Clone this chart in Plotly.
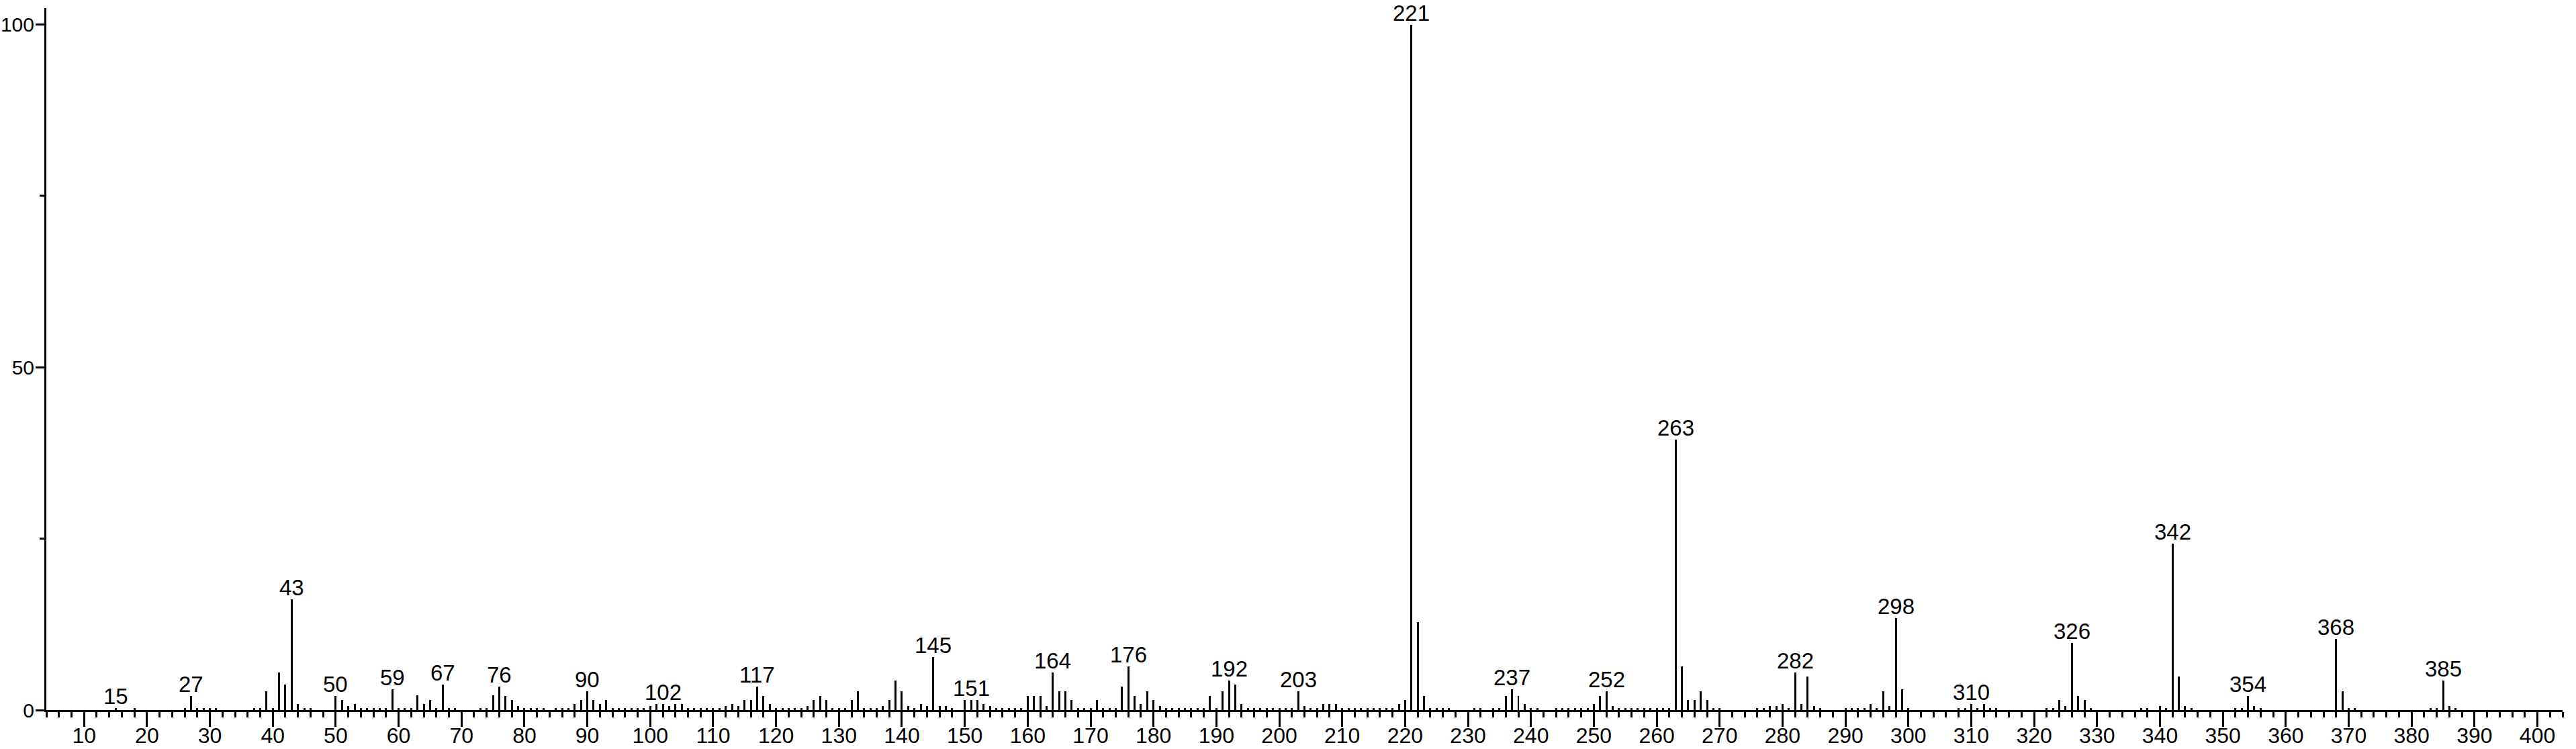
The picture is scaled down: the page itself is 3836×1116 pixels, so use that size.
import plotly.graph_objects as go

# mass spectrum peaks (m/z, relative intensity %)
mz = [15, 18, 26, 27, 28, 29, 30, 31, 37, 38, 39, 40, 41, 42, 43, 44, 45, 46,
      50, 51, 52, 53, 54, 55, 56, 57, 58, 59, 60, 61, 62, 63, 64, 65, 66, 67, 68, 69,
      73, 74, 75, 76, 77, 78, 79, 80, 81, 82, 83, 85, 86, 87, 88, 89, 90, 91, 92, 93,
      94, 95, 96, 97, 98, 99, 100, 101, 102, 103, 104, 105, 106, 107, 108, 109, 110,
      111, 112, 113, 114, 115, 116, 117, 118, 119, 120, 121, 122, 123, 124, 125, 126,
      127, 128, 129, 130, 131, 132, 133, 134, 135, 136, 137, 138, 139, 140, 141, 142,
      143, 144, 145, 146, 147, 148, 150, 151, 152, 153, 154, 155, 156, 157, 158, 159,
      160, 161, 162, 163, 164, 165, 166, 167, 168, 169, 170, 171, 172, 173, 174, 175,
      176, 177, 178, 179, 180, 181, 182, 183, 184, 185, 186, 187, 188, 189, 190, 191,
      192, 193, 194, 195, 196, 197, 198, 199, 200, 201, 202, 203, 204, 205, 206, 207,
      208, 209, 210, 211, 212, 213, 214, 215, 216, 217, 218, 219, 220, 221, 222, 223,
      224, 225, 226, 227, 231, 232, 234, 235, 236, 237, 238, 239, 240, 241, 244, 245,
      246, 247, 248, 249, 250, 251, 252, 253, 254, 255, 256, 257, 258, 259, 260, 261,
      262, 263, 264, 265, 266, 267, 268, 269, 270, 276, 277, 278, 279, 280, 281, 282,
      283, 284, 285, 286, 290, 291, 292, 293, 294, 295, 296, 297, 298, 299, 300, 308,
      309, 310, 311, 312, 313, 314, 322, 323, 324, 325, 326, 327, 328, 329, 337, 338,
      340, 341, 342, 343, 344, 345, 352, 353, 354, 355, 356, 368, 369, 370, 371, 383,
      384, 385, 386, 387]
intensity = [0.3, 0.3, 0.3, 2.1, 0.3, 0.3, 0.3, 0.3, 0.3, 0.3, 2.7, 0.3, 5.5, 3.7, 16.2, 0.9, 0.3, 0.3,
             2.1, 1.5, 0.6, 0.9, 0.3, 0.3, 0.3, 0.3, 0.3, 3.0, 0.3, 0.3, 0.3, 2.2, 0.9, 1.5, 0.3, 3.7, 0.3, 0.3,
             0.3, 0.3, 2.2, 3.4, 2.1, 1.5, 0.6, 0.3, 0.3, 0.3, 0.3, 0.3, 0.3, 0.3, 0.9, 1.5, 2.7, 1.5, 0.9, 1.5,
             0.3, 0.3, 0.3, 0.3, 0.3, 0.3, 0.6, 0.9, 0.9, 0.6, 0.9, 0.9, 0.3, 0.3, 0.3, 0.3, 0.3,
             0.3, 0.6, 0.9, 0.6, 1.5, 1.5, 3.4, 2.1, 0.9, 0.3, 0.3, 0.3, 0.3, 0.3, 0.6, 1.5,
             2.1, 1.5, 0.3, 0.3, 0.3, 1.5, 2.7, 0.3, 0.3, 0.3, 0.6, 1.5, 4.3, 2.7, 0.6, 0.3,
             0.9, 0.6, 7.7, 0.6, 0.6, 0.3, 1.5, 1.5, 1.5, 0.9, 0.6, 0.3, 0.3, 0.3, 0.3, 0.3,
             2.1, 2.1, 2.1, 0.6, 5.5, 2.7, 2.7, 1.5, 0.3, 0.3, 0.3, 1.5, 0.3, 0.3, 0.3, 3.4,
             6.4, 2.1, 0.9, 2.7, 1.5, 0.6, 0.3, 0.3, 0.3, 0.3, 0.3, 0.3, 0.3, 2.1, 0.3, 2.7,
             4.3, 3.7, 0.9, 0.3, 0.3, 0.3, 0.3, 0.3, 0.3, 0.3, 0.3, 2.7, 0.6, 0.3, 0.3, 0.9,
             0.9, 0.9, 0.3, 0.3, 0.3, 0.3, 0.3, 0.3, 0.3, 0.3, 0.3, 0.9, 1.5, 100.0, 12.8, 2.1,
             0.3, 0.3, 0.3, 0.3, 0.3, 0.3, 0.3, 0.3, 2.1, 3.0, 2.1, 0.9, 0.3, 0.3, 0.3, 0.3,
             0.3, 0.3, 0.3, 0.3, 0.9, 2.1, 2.7, 0.6, 0.3, 0.3, 0.3, 0.3, 0.3, 0.3, 0.3, 0.3,
             0.3, 39.5, 6.4, 1.5, 1.5, 2.7, 1.5, 0.3, 0.3, 0.3, 0.3, 0.6, 0.6, 0.9, 0.3, 5.5,
             0.9, 4.9, 0.6, 0.3, 0.3, 0.3, 0.3, 0.3, 0.9, 0.3, 2.7, 0.6, 13.4, 3.0, 0.3, 0.3,
             0.3, 0.9, 0.3, 0.9, 0.3, 0.3, 0.3, 0.3, 1.5, 0.6, 9.8, 2.1, 1.5, 0.3, 0.3, 0.3,
             0.6, 0.3, 24.3, 4.9, 0.6, 0.3, 0.3, 0.3, 2.1, 0.6, 0.3, 10.4, 2.7, 0.3, 0.3, 0.3,
             0.3, 4.3, 0.6, 0.3]

# peaks that carry an m/z label
label_mz = [15, 27, 43, 50, 59, 67, 76, 90, 102, 117, 145, 151, 164, 176, 192,
            203, 221, 237, 252, 263, 282, 298, 310, 326, 342, 354, 368, 385]

x_ticks = list(range(10, 401, 10))
y_ticks = [0, 50, 100]

FONT = "Liberation Sans, Arial, sans-serif"

lookup = dict(zip(mz, intensity))

fig = go.Figure()
fig.add_trace(go.Bar(
    x=mz,
    y=intensity,
    width=0.32,
    marker=dict(color='black', line=dict(width=0)),
    hoverinfo='x+y',
))

# m/z labels sitting just above their peaks
for m in label_mz:
    fig.add_annotation(
        x=m,
        y=lookup[m],
        text=str(m),
        showarrow=False,
        xanchor='center',
        yanchor='bottom',
        yshift=-3,
        font=dict(family=FONT, size=33, color='black'),
    )

fig.update_layout(
    width=3836,
    height=1116,
    margin=dict(l=69, r=20, t=12, b=58, pad=0),
    paper_bgcolor='white',
    plot_bgcolor='white',
    showlegend=False,
    bargap=0,
    font=dict(family=FONT, size=33, color='black'),
)
fig.update_xaxes(
    range=[4, 404],
    tickvals=x_ticks,
    ticks='outside',
    ticklen=22,
    tickwidth=3,
    tickcolor='black',
    showline=True,
    linewidth=3,
    linecolor='black',
    showgrid=False,
    zeroline=False,
    automargin=False,
    ticklabelstandoff=-14,
    tickfont=dict(family=FONT, size=32),
    minor=dict(dtick=2, tick0=0, ticks='outside', ticklen=8, tickwidth=3, tickcolor='black'),
)
fig.update_yaxes(
    range=[0, 102.4],
    tickvals=y_ticks,
    ticks='outside',
    ticklen=13,
    tickwidth=3,
    tickcolor='black',
    showline=True,
    linewidth=3,
    linecolor='black',
    showgrid=False,
    zeroline=False,
    automargin=False,
    ticklabelstandoff=-4,
    tickfont=dict(family=FONT, size=30),
    minor=dict(tickvals=[25, 75], ticks='outside', ticklen=7, tickwidth=3, tickcolor='black'),
)

# drop the browser's default body margin so the figure fills the window exactly
fig.write_html(
    "out.html",
    config={'displayModeBar': False},
    post_script="document.body.style.margin='0';document.body.style.overflow='hidden';",
)
